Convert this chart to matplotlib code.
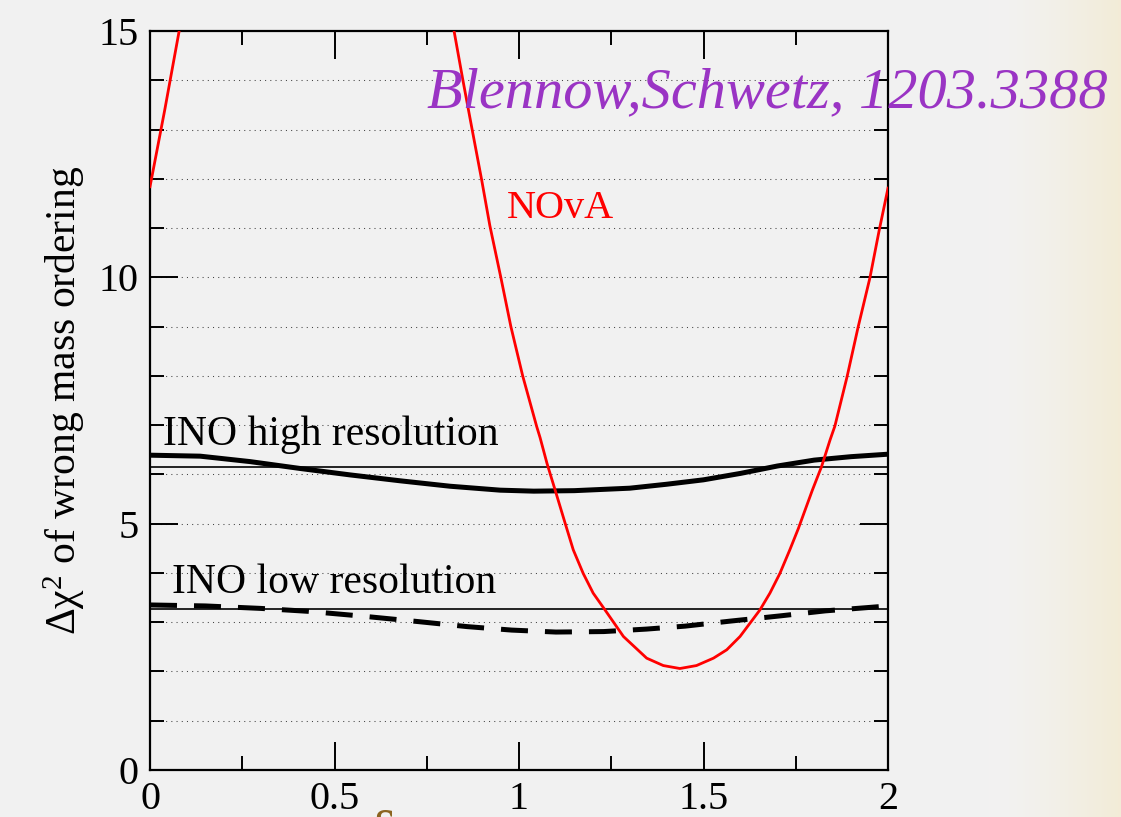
import numpy as np
import matplotlib.pyplot as plt
from matplotlib.ticker import MultipleLocator

plt.rcParams["font.family"] = ["Liberation Serif", "DejaVu Serif"]
plt.rcParams["mathtext.fontset"] = "custom"
plt.rcParams["mathtext.rm"] = "Liberation Serif"
plt.rcParams["mathtext.it"] = "Liberation Serif:italic"

# delta_CP / pi  vs  Delta chi^2 of wrong mass ordering
nova_x = [0, 0.04, 0.079, 0.12, 0.25, 0.45, 0.65, 0.78, 0.824, 0.848, 0.873,
          0.899, 0.921, 0.951, 0.978, 1.01, 1.048, 1.057, 1.076, 1.098, 1.125,
          1.147, 1.174, 1.201, 1.233, 1.283, 1.346, 1.391, 1.436, 1.481, 1.527,
          1.563, 1.599, 1.653, 1.68, 1.707, 1.734, 1.757, 1.795, 1.82, 1.843,
          1.856, 1.889, 1.919, 1.951, 1.976, 2.0]
nova_y = [11.84, 13.4, 15.0, 16.5, 21.0, 24.0, 21.5, 16.6, 15.0, 14.0, 13.0,
          11.97, 11.05, 9.99, 9.0, 8.0, 6.97, 6.75, 6.22, 5.68, 5.01,
          4.47, 3.99, 3.59, 3.25, 2.71, 2.27, 2.12, 2.06, 2.12, 2.27,
          2.44, 2.71, 3.25, 3.59, 3.99, 4.47, 4.9, 5.68, 6.16, 6.70,
          6.98, 7.98, 8.99, 9.99, 10.95, 11.81]

ino_high_x = [0, 0.136, 0.271, 0.407, 0.542, 0.678, 0.813, 0.949, 1.04, 1.15,
              1.3, 1.4, 1.5, 1.6, 1.7, 1.8, 1.9, 2.0]
ino_high_y = [6.39, 6.37, 6.26, 6.12, 5.99, 5.87, 5.76, 5.68, 5.66, 5.67,
              5.72, 5.80, 5.89, 6.02, 6.17, 6.29, 6.36, 6.41]

ino_low_x = [0, 0.15, 0.3, 0.43, 0.58, 0.73, 0.86, 0.98, 1.1, 1.23, 1.345,
             1.45, 1.57, 1.71, 1.83, 1.95, 2.0]
ino_low_y = [3.35, 3.33, 3.28, 3.22, 3.12, 3.01, 2.91, 2.84, 2.80, 2.81, 2.86,
             2.92, 3.02, 3.13, 3.23, 3.30, 3.33]

ref_levels = [6.15, 3.27]

fig = plt.figure(figsize=(11.21, 8.17), dpi=100)

# slide background: light grey fading to beige at the right edge
bg = fig.add_axes([0, 0, 1, 1], zorder=-10)
grey = np.array([0.949, 0.949, 0.949])
beige = np.array([0.953, 0.925, 0.845])
t = np.clip((np.linspace(0, 1, 400) - 0.88) / 0.12, 0, 1) ** 1.5
row = grey[None, :] * (1 - t[:, None]) + beige[None, :] * t[:, None]
bg.imshow(row[None, :, :], aspect="auto", extent=[0, 1, 0, 1])
bg.set_axis_off()

ax = fig.add_axes([150 / 1121, 47 / 817, 738 / 1121, 739 / 817])
ax.patch.set_alpha(0)

for lev in range(1, 15):
    ax.axhline(lev, color="#444444", lw=0.75, ls=(0, (1, 4)), zorder=1)
for lev in ref_levels:
    ax.axhline(lev, color="black", lw=1.2, zorder=2)

ax.plot(nova_x, nova_y, color="red", lw=2.0, zorder=4)
ax.plot(ino_high_x, ino_high_y, color="black", lw=3.6, zorder=3)
ax.plot(ino_low_x, ino_low_y, color="black", lw=3.6, ls=(0, (5.4, 3.4)), zorder=3)

ax.set_xlim(0, 2)
ax.set_ylim(0, 15)
ax.xaxis.set_major_locator(MultipleLocator(0.5))
ax.xaxis.set_minor_locator(MultipleLocator(0.25))
ax.yaxis.set_major_locator(MultipleLocator(5))
ax.yaxis.set_minor_locator(MultipleLocator(1))
ax.set_xticks([0, 0.5, 1, 1.5, 2], ["0", "0.5", "1", "1.5", "2"])
ax.tick_params(which="both", direction="in", top=True, right=True, width=1.4,
               labelsize=29, pad=8)
ax.tick_params(which="major", length=20)
ax.tick_params(which="minor", length=10)
for sp in ax.spines.values():
    sp.set_linewidth(1.6)

ax.set_ylabel("Δχ$^{2}$ of wrong mass ordering", fontsize=30)
ax.yaxis.set_label_coords(-0.085, 0.5)

ax.text(0.035, 6.6, "INO high resolution", fontsize=30, va="baseline")
ax.text(0.06, 3.59, "INO low resolution", fontsize=30, va="baseline")
ax.text(0.967, 11.2, "NOvA", fontsize=29, color="red", va="baseline")
ax.text(0.75, 13.46, "Blennow,Schwetz, 1203.3388", fontsize=42, color="#9a34c4",
        style="italic", va="baseline", clip_on=False, zorder=5)

# axis label cut off by the slide edge
fig.text(383 / 1121, 1 - 809 / 817, "δ", fontsize=40, color="#8b6420",
         ha="center", va="top")

fig.savefig("out.png", dpi=100)
